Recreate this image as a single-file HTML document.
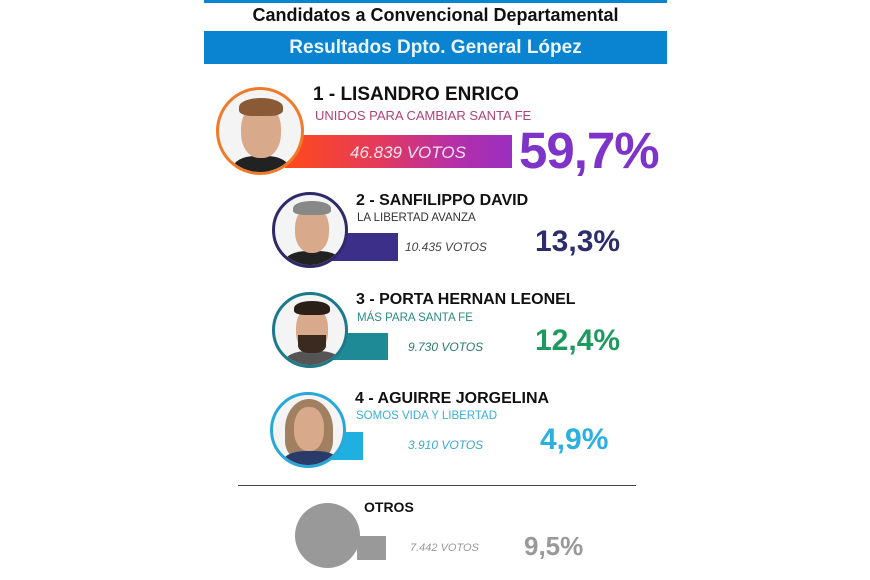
<!DOCTYPE html>
<html><head><meta charset="utf-8"><style>
*{margin:0;padding:0;box-sizing:border-box}
body{width:870px;height:580px;background:#fff;position:relative;overflow:hidden;font-family:"Liberation Sans",Arial,sans-serif}
.a{position:absolute;white-space:nowrap}
.b{font-weight:bold}
.ph{position:absolute;border-radius:50%;background:#f4f4f4;overflow:hidden}
.face{position:absolute;border-radius:45%;background:#d9a98c}
.hair{position:absolute;border-radius:50% 50% 30% 30%}
.body{position:absolute;border-radius:40% 40% 0 0}
</style></head><body>
<div class="a" style="left:204px;top:0;width:463px;height:3px;background:#0a84d0"></div>
<div class="a b" style="left:204px;width:463px;text-align:center;top:5px;font-size:18px;color:#111">Candidatos a Convencional Departamental</div>
<div class="a b" style="left:204px;top:31px;width:463px;height:33px;background:#0a84d0;color:#eaf5fb;text-align:center;font-size:19px;line-height:33px">Resultados Dpto. General López</div>

<!-- 1 -->
<div class="a" style="left:285px;top:135px;width:227px;height:33px;background:linear-gradient(90deg,#ff4a1a,#e53a5a 40%,#b52fa8 75%,#9a2fc0)"></div>
<div class="a" style="left:350px;top:143px;font-size:17px;font-style:italic;color:#f4e4f0">46.839 VOTOS</div>
<div class="ph" style="left:216px;top:87px;width:88px;height:88px;border:3px solid #f07a2a">
<div class="body" style="left:14px;top:66px;width:56px;height:30px;background:#222"></div>
<div class="face" style="left:22px;top:14px;width:40px;height:54px"></div>
<div class="hair" style="left:20px;top:8px;width:44px;height:18px;background:#8a5a36"></div>
</div>
<div class="a b" style="left:313px;top:84px;font-size:19px;color:#111">1 - LISANDRO ENRICO</div>
<div class="a" style="left:315px;top:108px;font-size:13px;color:#b0427a">UNIDOS PARA CAMBIAR SANTA FE</div>
<div class="a b" style="left:519px;top:121px;font-size:51px;color:#7e34c8;letter-spacing:-1px">59,7%</div>

<!-- 2 -->
<div class="a" style="left:330px;top:233px;width:68px;height:28px;background:#3b2f8a"></div>
<div class="ph" style="left:272px;top:192px;width:76px;height:76px;border:3px solid #2e2a6a">
<div class="body" style="left:10px;top:56px;width:56px;height:26px;background:#222"></div>
<div class="face" style="left:20px;top:12px;width:34px;height:46px"></div>
<div class="hair" style="left:18px;top:6px;width:38px;height:14px;background:#888"></div>
</div>
<div class="a b" style="left:356px;top:192px;font-size:16px;color:#111">2 - SANFILIPPO DAVID</div>
<div class="a" style="left:357px;top:212px;font-size:11.5px;color:#333">LA LIBERTAD AVANZA</div>
<div class="a" style="left:405px;top:240px;font-size:12px;font-style:italic;color:#444">10.435 VOTOS</div>
<div class="a b" style="left:535px;top:225px;font-size:30px;color:#2e2d6b">13,3%</div>

<!-- 3 -->
<div class="a" style="left:330px;top:333px;width:58px;height:27px;background:#1e8a96"></div>
<div class="ph" style="left:272px;top:292px;width:76px;height:76px;border:3px solid #1a7a8a">
<div class="body" style="left:10px;top:56px;width:56px;height:26px;background:#555"></div>
<div class="face" style="left:21px;top:12px;width:32px;height:46px"></div>
<div class="hair" style="left:19px;top:6px;width:36px;height:14px;background:#2a2018"></div>
<div class="a" style="left:23px;top:40px;width:28px;height:18px;background:#3a2a20;border-radius:0 0 40% 40%"></div>
</div>
<div class="a b" style="left:356px;top:291px;font-size:16px;color:#111">3 - PORTA HERNAN LEONEL</div>
<div class="a" style="left:357px;top:312px;font-size:11.5px;color:#2a8a80">MÁS PARA SANTA FE</div>
<div class="a" style="left:408px;top:340px;font-size:12px;font-style:italic;color:#2a7a70">9.730 VOTOS</div>
<div class="a b" style="left:535px;top:324px;font-size:30px;color:#1e9a5e">12,4%</div>

<!-- 4 -->
<div class="a" style="left:330px;top:432px;width:33px;height:28px;background:#1fb0e0"></div>
<div class="ph" style="left:270px;top:392px;width:76px;height:76px;border:3px solid #29a8d8">
<div class="hair" style="left:12px;top:4px;width:48px;height:60px;background:#a08060"></div>
<div class="body" style="left:10px;top:56px;width:56px;height:26px;background:#2a3a6a"></div>
<div class="face" style="left:21px;top:12px;width:30px;height:44px"></div>
</div>
<div class="a b" style="left:355px;top:390px;font-size:16px;color:#111">4 - AGUIRRE JORGELINA</div>
<div class="a" style="left:356px;top:410px;font-size:11.5px;color:#3ab0d8">SOMOS VIDA Y LIBERTAD</div>
<div class="a" style="left:408px;top:438px;font-size:12px;font-style:italic;color:#3aa8d0">3.910 VOTOS</div>
<div class="a b" style="left:540px;top:423px;font-size:30px;color:#2bb0e0">4,9%</div>

<div class="a" style="left:238px;top:485px;width:398px;height:1px;background:#444"></div>

<!-- otros -->
<div class="a" style="left:357px;top:536px;width:29px;height:24px;background:#999"></div>
<div class="a" style="left:295px;top:503px;width:65px;height:65px;border-radius:50%;background:#999"></div>
<div class="a b" style="left:364px;top:499px;font-size:14px;color:#111">OTROS</div>
<div class="a" style="left:410px;top:542px;font-size:11px;font-style:italic;color:#999">7.442 VOTOS</div>
<div class="a b" style="left:524px;top:531px;font-size:26px;color:#999">9,5%</div>
</body></html>
